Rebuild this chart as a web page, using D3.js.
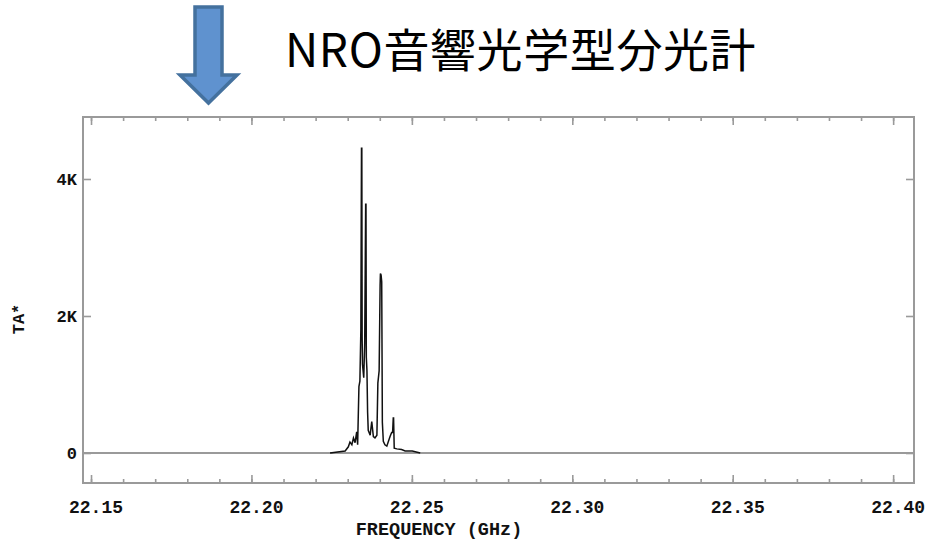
<!DOCTYPE html>
<html>
<head>
<meta charset="utf-8">
<script src="https://cdn.jsdelivr.net/npm/d3@7"></script>
<style>
  html, body { margin: 0; padding: 0; background: #fff; }
  svg { display: block; }
</style>
</head>
<body>
<svg id="chart" width="929" height="540"></svg>
<script>
// ---- data ----
const titleText = "NRO音響光学型分光計";
const xLabel = "FREQUENCY (GHz)";
const yLabel = "TA*";
const xMajorTicks = [22.15, 22.20, 22.25, 22.30, 22.35, 22.40];
const yTicks = [0, 2, 4];                 // in K (thousands)
const yTickLabels = ["0", "2K", "4K"];
// spectrum: frequency (GHz) and antenna temperature (K, thousands)
const freqGHz = [22.2245, 22.2292, 22.2302, 22.2307, 22.2313, 22.2318, 22.2323, 22.2328, 22.2331,
  22.2335, 22.2338, 22.2341, 22.2343, 22.2344, 22.2345, 22.2346, 22.2350, 22.2353, 22.2356, 22.2357,
  22.2358, 22.2360, 22.2362, 22.2364, 22.2370, 22.2375, 22.2380, 22.2385, 22.2391, 22.2394, 22.2398,
  22.2401, 22.2402, 22.2404, 22.2405, 22.2406, 22.2408, 22.2411, 22.2416, 22.2422, 22.2427, 22.2432,
  22.2437, 22.2440, 22.2442, 22.2443, 22.2445, 22.2453, 22.2468, 22.2479, 22.2501, 22.2526];
const taK = [0.00, 0.03, 0.09, 0.16, 0.12, 0.22, 0.15, 0.31, 0.12,
  0.97, 1.05, 1.80, 4.45, 4.45, 1.70, 1.30, 1.10, 1.60, 3.63, 3.63,
  1.40, 1.20, 0.60, 0.33, 0.26, 0.46, 0.24, 0.22, 0.26, 1.02, 1.20,
  2.45, 2.62, 2.60, 2.55, 2.50, 0.45, 0.17, 0.12, 0.10, 0.17, 0.24,
  0.30, 0.30, 0.51, 0.51, 0.07, 0.06, 0.05, 0.03, 0.03, 0.00];

// ---- drawing ----
const svg = d3.select("#chart");
const frame = {left: 83, right: 914, top: 117, bottom: 483};
const x = d3.scaleLinear().domain([22.1475, 22.4065]).range([frame.left, frame.right]);
const y = d3.scaleLinear().domain([-0.438, 4.905]).range([frame.bottom, frame.top]);
const axisColor = "#9a9a9a";
const monoFont = "'Liberation Mono', 'DejaVu Sans Mono', monospace";

// Arrow decoration
svg.append("path")
  .attr("d", "M195,7 L222,7 L222,75 L237,75 L208.5,103 L180,75 L195,75 Z")
  .attr("fill", "#5f92cf")
  .attr("stroke", "#44719e")
  .attr("stroke-width", 3.5)
  .attr("stroke-linejoin", "miter");

// Title
svg.append("text")
  .attr("x", 285).attr("y", 67)
  .attr("font-family", "'Noto Sans CJK JP', 'Noto Sans', sans-serif")
  .attr("font-size", 46)
  .attr("letter-spacing", 0.6)
  .attr("fill", "#000")
  .text(titleText);

// Minor ticks every 0.01 GHz
const minorTicks = d3.range(22.15, 22.4001, 0.01).map(v => +v.toFixed(2));

function styleAxis(g) {
  g.select(".domain").remove();
  g.selectAll(".tick line").attr("stroke", axisColor).attr("stroke-width", 1.6);
  g.selectAll(".tick text").remove();
}

// bottom ticks (inner)
svg.append("g").attr("transform", `translate(0,${frame.bottom})`)
  .call(d3.axisBottom(x).tickValues(minorTicks).tickSize(-4)).call(styleAxis);
svg.append("g").attr("transform", `translate(0,${frame.bottom})`)
  .call(d3.axisBottom(x).tickValues(xMajorTicks).tickSize(-8)).call(styleAxis);
// top ticks (inner)
svg.append("g").attr("transform", `translate(0,${frame.top})`)
  .call(d3.axisTop(x).tickValues(minorTicks).tickSize(-4)).call(styleAxis);
svg.append("g").attr("transform", `translate(0,${frame.top})`)
  .call(d3.axisTop(x).tickValues(xMajorTicks).tickSize(-8)).call(styleAxis);
// left / right ticks (inner)
svg.append("g").attr("transform", `translate(${frame.left},0)`)
  .call(d3.axisLeft(y).tickValues(yTicks).tickSize(-8)).call(styleAxis);
svg.append("g").attr("transform", `translate(${frame.right},0)`)
  .call(d3.axisRight(y).tickValues(yTicks).tickSize(-8)).call(styleAxis);

// zero line
svg.append("line")
  .attr("x1", frame.left).attr("x2", frame.right)
  .attr("y1", y(0)).attr("y2", y(0))
  .attr("stroke", axisColor).attr("stroke-width", 2);

// frame
svg.append("rect")
  .attr("x", frame.left).attr("y", frame.top)
  .attr("width", frame.right - frame.left).attr("height", frame.bottom - frame.top)
  .attr("fill", "none").attr("stroke", axisColor).attr("stroke-width", 2);

// spectrum
const line = d3.line().x((d, i) => x(freqGHz[i])).y(d => y(d)).curve(d3.curveLinear);
svg.append("path")
  .datum(taK)
  .attr("d", line)
  .attr("fill", "none")
  .attr("stroke", "#111")
  .attr("stroke-width", 1.5)
  .attr("stroke-linejoin", "miter");

// x tick labels
svg.append("g").selectAll("text").data(xMajorTicks).join("text")
  .attr("x", d => x(d) + 5).attr("y", 513)
  .attr("text-anchor", "middle")
  .attr("font-family", monoFont).attr("font-weight", "bold").attr("font-size", 18)
  .attr("fill", "#111")
  .text(d => d3.format(".2f")(d));

// y tick labels
svg.append("g").selectAll("text").data(yTicks).join("text")
  .attr("x", 77).attr("y", d => y(d) + 6)
  .attr("text-anchor", "end")
  .attr("font-family", monoFont).attr("font-weight", "bold").attr("font-size", 17)
  .attr("fill", "#111")
  .text((d, i) => yTickLabels[i]);

// axis titles
svg.append("text")
  .attr("x", 439).attr("y", 535)
  .attr("text-anchor", "middle")
  .attr("font-family", monoFont).attr("font-weight", "bold").attr("font-size", 18.5)
  .attr("fill", "#111")
  .text(xLabel);

svg.append("text")
  .attr("transform", "translate(24,319) rotate(-90)")
  .attr("text-anchor", "middle")
  .attr("font-family", monoFont).attr("font-weight", "bold").attr("font-size", 17)
  .attr("fill", "#111")
  .text(yLabel);
</script>
</body>
</html>
